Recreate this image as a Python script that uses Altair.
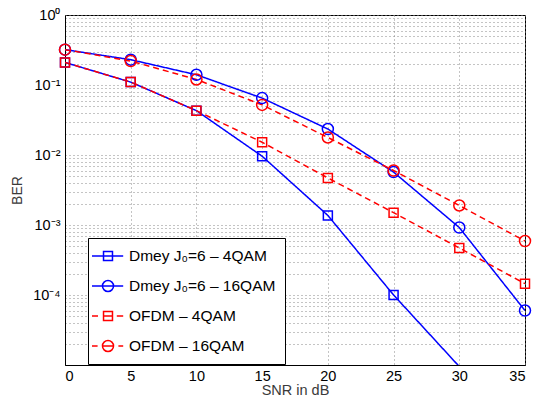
import altair as alt
import pandas as pd

snr = [0, 5, 10, 15, 20, 25, 30, 35]
series_names = ["Dmey J₀=6 – 4QAM", "Dmey J₀=6 – 16QAM", "OFDM – 4QAM", "OFDM – 16QAM"]
dmey_4qam = [0.21, 0.11, 0.043, 0.0096, 0.00137, 0.000100, 0.0000095]
dmey_16qam = [0.32, 0.23, 0.14, 0.065, 0.0235, 0.0057, 0.00092, 0.000060]
ofdm_4qam = [0.21, 0.11, 0.043, 0.0152, 0.0047, 0.0015, 0.00047, 0.000145]
ofdm_16qam = [0.32, 0.22, 0.12, 0.052, 0.0178, 0.006, 0.0019, 0.00059]
x_ticks = [0, 5, 10, 15, 20, 25, 30, 35]
y_grid = [m * 10.0 ** e for e in range(-5, 0) for m in range(1, 10)] + [1.0]

rows = []
for name, vals in zip(series_names, [dmey_4qam, dmey_16qam, ofdm_4qam, ofdm_16qam]):
    for s, v in zip(snr, vals):
        rows.append({"snr": s, "ber": v, "series": name})
df = pd.DataFrame(rows)

FONT = "Liberation Sans"
colors = ["#0000ff", "#0000ff", "#ff0000", "#ff0000"]

x = alt.X("snr:Q", scale=alt.Scale(domain=[0, 35], nice=False, zero=False),
          axis=alt.Axis(values=x_ticks, title="SNR in dB", grid=True, ticks=False,
                        labelFontSize=14.5, labelPadding=4, titleFontSize=14.5,
                        titlePadding=1))
y = alt.Y("ber:Q", scale=alt.Scale(type="log", domain=[1e-5, 1], nice=False),
          axis=alt.Axis(values=y_grid, title="BER", grid=True, ticks=False,
                        labelFontSize=14.5, labelPadding=5, titleFontSize=14,
                        titlePadding=8,
                        labelExpr=("abs(log(datum.value)/LN10 - round(log(datum.value)/LN10)) > 0.001 ? '' : "
                                   "round(log(datum.value)/LN10) == 0 ? '10⁰' : "
                                   "round(log(datum.value)/LN10) == -1 ? '10⁻¹' : "
                                   "round(log(datum.value)/LN10) == -2 ? '10⁻²' : "
                                   "round(log(datum.value)/LN10) == -3 ? '10⁻³' : "
                                   "round(log(datum.value)/LN10) == -4 ? '10⁻⁴' : ''")))
color = alt.Color("series:N", scale=alt.Scale(domain=series_names, range=colors), legend=None)
dash = alt.StrokeDash("series:N", scale=alt.Scale(domain=series_names,
                                                  range=[[1, 0], [1, 0], [6, 4], [6, 4]]),
                      legend=None)

base = alt.Chart(df)
lines = base.mark_line(clip=True, strokeWidth=1.5).encode(x=x, y=y, color=color, strokeDash=dash)
squares = base.transform_filter(
    "datum.ber >= 1e-5 && indexof(datum.series, '16QAM') < 0"
).mark_point(shape="square", size=81, filled=False, strokeWidth=1.5, opacity=1).encode(
    x=x, y=y, color=color)
circles = base.transform_filter(
    "datum.ber >= 1e-5 && indexof(datum.series, '16QAM') >= 0"
).mark_point(shape="circle", size=121, filled=False, strokeWidth=1.5, opacity=1).encode(
    x=x, y=y, color=color)

paths = [
    "M-1.75,0H2.15M-0.31,-0.56H0.81V0.56H-0.31Z",
    "M-1.75,0H2.15M0.94,0A0.69,0.69 0 1,1 -0.44,0A0.69,0.69 0 1,1 0.94,0Z",
    "M-1.75,0H-1.0M-0.31,0H0.81M1.35,0H2.15M-0.31,-0.56H0.81V0.56H-0.31Z",
    "M-1.75,0H-1.05M-0.44,0H0.94M1.55,0H2.15M0.94,0A0.69,0.69 0 1,1 -0.44,0A0.69,0.69 0 1,1 0.94,0Z",
]
leg = alt.Legend(
    title=None, orient="none", legendX=23, legendY=223,
    fillColor="white", strokeColor="black", padding=9,
    rowPadding=12, labelFontSize=15.5, labelFont=FONT,
    labelColor="black", symbolSize=256, symbolStrokeWidth=1.5,
    labelOffset=14, symbolOpacity=1)
legend_layer = base.transform_filter("false").mark_point(filled=False, opacity=1).encode(
    x=x, y=y,
    shape=alt.Shape("series:N", scale=alt.Scale(domain=series_names, range=paths), legend=leg),
    color=alt.Color("series:N", scale=alt.Scale(domain=series_names, range=colors), legend=leg),
)

chart = alt.layer(lines, squares, circles, legend_layer).resolve_scale(
    color="independent", shape="independent", strokeDash="independent"
).resolve_legend(color="independent", shape="independent", strokeDash="independent").properties(
    width=460, height=350,
    autosize=alt.AutoSizeParams(type="none"),
    padding={"left": 57, "top": 7, "right": 8, "bottom": 35},
).configure_view(stroke="black", strokeWidth=1).configure_axis(
    labelFont=FONT, titleFont=FONT, labelColor="black", titleColor="#3a3a3a",
    titleFontWeight="normal", domainColor="black", domainWidth=1,
    gridColor="#888888", gridDash=[1, 3], gridOpacity=1, gridWidth=1,
)

chart.save("out.html", embed_options={"renderer": "svg", "actions": False})
